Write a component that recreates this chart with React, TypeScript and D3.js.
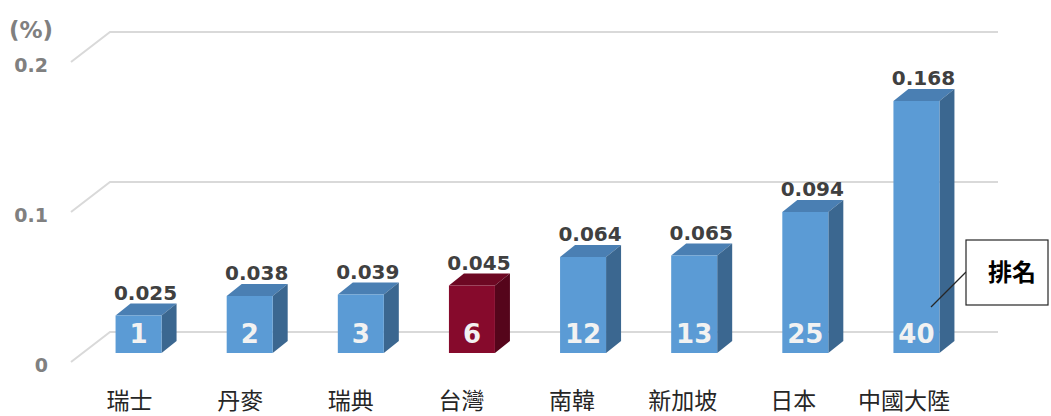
import React from "react";
import * as d3 from "d3";

const categories = ["瑞士", "丹麥", "瑞典", "台灣", "南韓", "新加坡", "日本", "中國大陸"];
const values = [0.025, 0.038, 0.039, 0.045, 0.064, 0.065, 0.094, 0.168];
const ranks = [1, 2, 3, 6, 12, 13, 25, 40];
const yTicks = [0, 0.1, 0.2];
const yTickLabels = ["0", "0.1", "0.2"];
const highlight = "台灣";

const W = 1051;
const H = 416;
const DX = 39;
const DY = -30;
const BDX = 15;
const BDY = -12;
const BAR_W = 46;

const numFont = "'DejaVu Sans', Verdana, sans-serif";
const cjkFont = "'Noto Sans CJK TC', 'Noto Sans CJK SC', sans-serif";

export default function App() {
  const x = d3.scaleBand<string>().domain(categories).range([75, 964]);
  const yBar = d3.scaleLinear().domain([0, 0.2]).range([353, 53]);
  const yFront = d3.scaleLinear().domain([0, 0.2]).range([362, 62]);
  const step = x.step();

  return (
    <svg width={W} height={H} style={{ position: "absolute", left: 0, top: 0, background: "#fff" }}>
      {yTicks.map((t, i) => {
        const fy = yFront(t);
        return (
          <g key={t}>
            <polyline
              points={`71,${fy} ${71 + DX},${fy + DY} 998,${fy + DY}`}
              fill="none"
              stroke="#d9d9d9"
              strokeWidth={2}
            />
            <text
              x={48}
              y={fy + 10}
              textAnchor="end"
              fontFamily={numFont}
              fontWeight="bold"
              fontSize={19}
              fill="#808080"
            >
              {yTickLabels[i]}
            </text>
          </g>
        );
      })}
      <text x={31} y={38} textAnchor="middle" fontFamily={numFont} fontWeight="bold" fontSize={23} fill="#808080">
        (%)
      </text>

      {categories.map((c, i) => {
        const cx = (x(c) as number) + step / 2;
        const left = cx - 15;
        const right = left + BAR_W;
        const top = yBar(values[i]);
        const bottom = yBar(0);
        const isHi = c === highlight;
        const front = isHi ? "#860a2c" : "#5b9bd5";
        const topC = isHi ? "#6d0823" : "#4a7fb3";
        const side = isHi ? "#55051b" : "#3b6790";
        return (
          <g key={c}>
            <polygon
              points={`${left},${top} ${left + BDX},${top + BDY} ${right + BDX},${top + BDY} ${right},${top}`}
              fill={topC}
            />
            <polygon
              points={`${right},${top} ${right + BDX},${top + BDY} ${right + BDX},${bottom + BDY} ${right},${bottom}`}
              fill={side}
            />
            <rect x={left} y={top} width={BAR_W} height={bottom - top} fill={front} />
            <text
              x={left + BAR_W / 2}
              y={343}
              textAnchor="middle"
              fontFamily={numFont}
              fontWeight="bold"
              fontSize={26}
              fill="#f2f2f2"
            >
              {ranks[i]}
            </text>
            <text
              x={left + BAR_W / 2 + 7}
              y={top - 16}
              textAnchor="middle"
              fontFamily={numFont}
              fontWeight="bold"
              fontSize={20}
              fill="#404040"
            >
              {values[i].toFixed(3)}
            </text>
            <text
              x={cx - 1 - i * 0.5}
              y={409}
              textAnchor="middle"
              fontFamily={cjkFont}
              fontSize={23}
              fill="#262626"
            >
              {c}
            </text>
          </g>
        );
      })}

      <line x1={931} y1={307} x2={966} y2={272} stroke="#262626" strokeWidth={1.2} />
      <rect x={966} y={240} width={82} height={65} fill="#fff" stroke="#262626" strokeWidth={1.2} />
      <text x={1012} y={281} textAnchor="middle" fontFamily={cjkFont} fontWeight="bold" fontSize={24} fill="#000">
        排名
      </text>
    </svg>
  );
}
